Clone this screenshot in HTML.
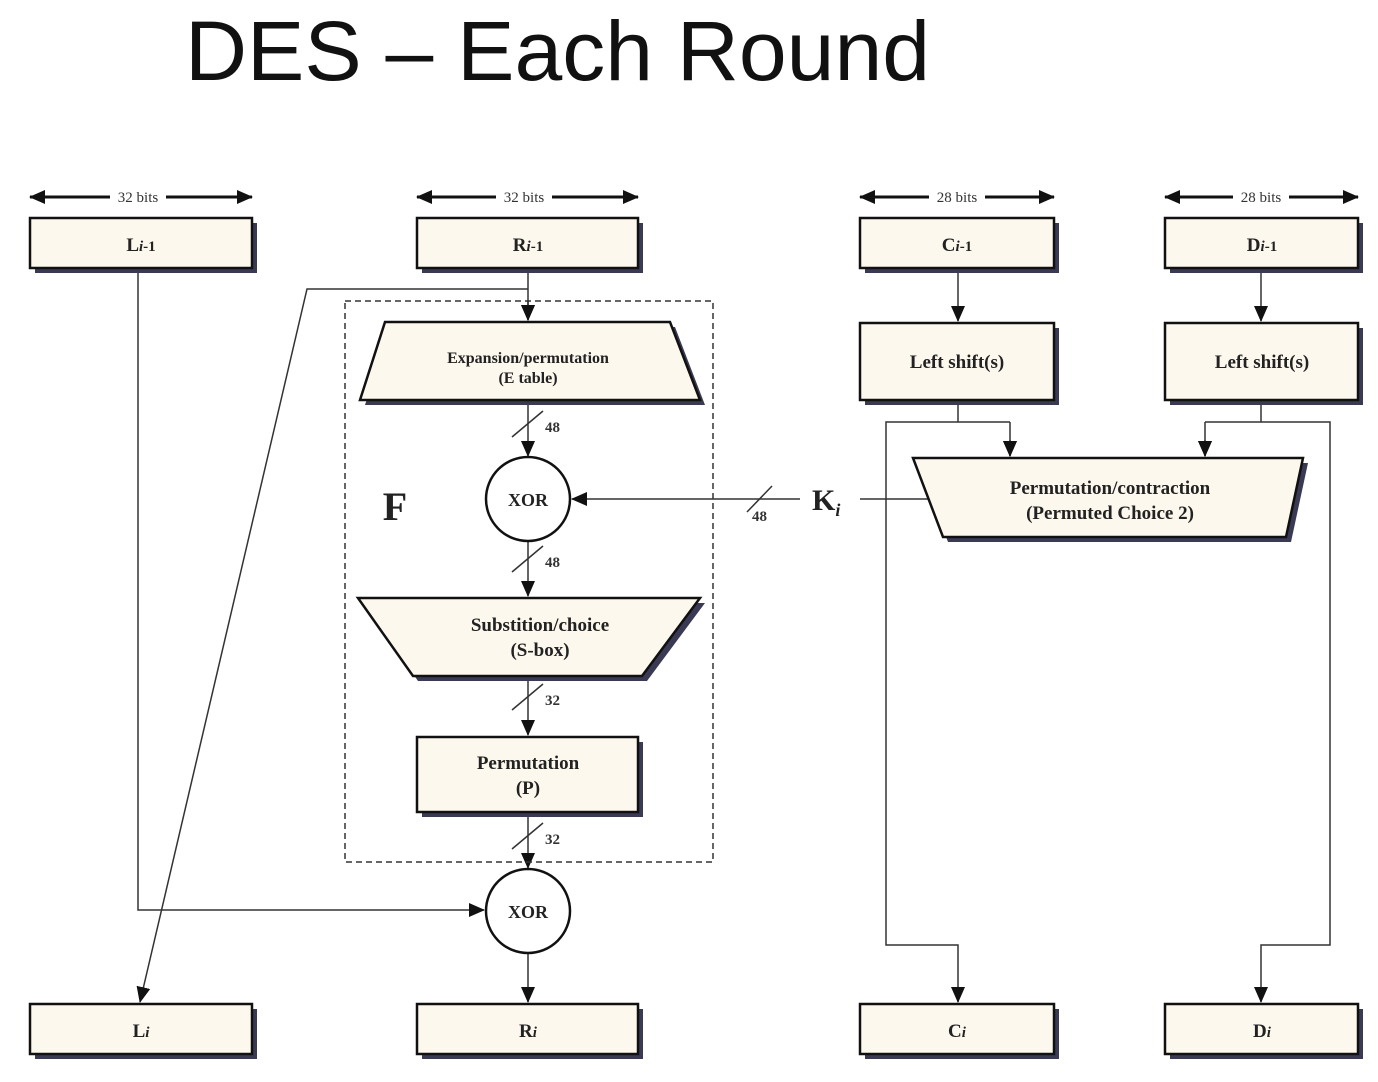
<!DOCTYPE html>
<html><head><meta charset="utf-8"><style>
html,body{margin:0;padding:0;background:#fff;width:1378px;height:1082px;overflow:hidden}
svg{display:block}
.b{font-family:"Liberation Serif",serif;font-weight:bold;fill:#222}
</style></head><body>
<svg width="1378" height="1082" viewBox="0 0 1378 1082" xmlns="http://www.w3.org/2000/svg">
<defs>
<marker id="ah" markerWidth="16" markerHeight="14" refX="15" refY="7" orient="auto" markerUnits="userSpaceOnUse"><path d="M0,0 L16,7 L0,14 z" fill="#111"/></marker>
<marker id="as" markerWidth="16" markerHeight="14" refX="15" refY="7" orient="auto" markerUnits="userSpaceOnUse"><path d="M0,0 L16,7 L0,14 z" fill="#111"/></marker>
</defs>
<text x="185" y="80" font-family="Liberation Sans,sans-serif" font-size="84" fill="#111" textLength="745" lengthAdjust="spacingAndGlyphs">DES – Each Round</text>

<g stroke="#111" stroke-width="3">
<line x1="45" y1="197" x2="252" y2="197" marker-end="url(#ah)"/><line x1="237" y1="197" x2="30" y2="197" marker-end="url(#ah)"/>
<line x1="432" y1="197" x2="638" y2="197" marker-end="url(#ah)"/><line x1="623" y1="197" x2="417" y2="197" marker-end="url(#ah)"/>
<line x1="875" y1="197" x2="1054" y2="197" marker-end="url(#ah)"/><line x1="1040" y1="197" x2="860" y2="197" marker-end="url(#ah)"/>
<line x1="1180" y1="197" x2="1358" y2="197" marker-end="url(#ah)"/><line x1="1343" y1="197" x2="1165" y2="197" marker-end="url(#ah)"/>
</g>
<g font-family="Liberation Serif,serif" font-size="15" fill="#333" text-anchor="middle">
<rect x="110" y="189" width="56" height="16" fill="#fff"/><text x="138" y="202">32 bits</text>
<rect x="496" y="189" width="56" height="16" fill="#fff"/><text x="524" y="202">32 bits</text>
<rect x="929" y="189" width="56" height="16" fill="#fff"/><text x="957" y="202">28 bits</text>
<rect x="1233" y="189" width="56" height="16" fill="#fff"/><text x="1261" y="202">28 bits</text>
</g>

<g stroke="#333" stroke-width="1.5" fill="none">
<polyline points="138,268 138,910 484,910" marker-end="url(#as)"/>
<line x1="528" y1="268" x2="528" y2="320" marker-end="url(#as)"/>
<polyline points="528,289 307,289 140,1002" marker-end="url(#as)"/>
<line x1="528" y1="400" x2="528" y2="456" marker-end="url(#as)"/>
<line x1="528" y1="541" x2="528" y2="596" marker-end="url(#as)"/>
<line x1="528" y1="676" x2="528" y2="735" marker-end="url(#as)"/>
<line x1="528" y1="812" x2="528" y2="868" marker-end="url(#as)"/>
<line x1="528" y1="953" x2="528" y2="1002" marker-end="url(#as)"/>
<line x1="930" y1="499" x2="572" y2="499" marker-end="url(#as)"/>
<line x1="958" y1="268" x2="958" y2="321" marker-end="url(#as)"/>
<line x1="1261" y1="268" x2="1261" y2="321" marker-end="url(#as)"/>
<line x1="958" y1="400" x2="958" y2="422"/>
<line x1="1261" y1="400" x2="1261" y2="422"/>
<polyline points="1010,422 886,422 886,945 958,945 958,1002" marker-end="url(#as)"/>
<polyline points="1205,422 1330,422 1330,945 1261,945 1261,1002" marker-end="url(#as)"/>
<polyline points="1010,422 1010,456" marker-end="url(#as)"/>
<polyline points="1205,422 1205,456" marker-end="url(#as)"/>
<rect x="345" y="301" width="368" height="561" stroke-dasharray="6,4"/>
</g>
<rect x="800" y="485" width="60" height="30" fill="#fff"/>
<text x="812" y="510" class="b" font-size="30">K<tspan font-size="18" font-style="italic" dy="6">i</tspan></text>

<g stroke="#333" stroke-width="1.5"><line x1="512" y1="437" x2="543" y2="411"/><line x1="512" y1="572" x2="543" y2="546"/><line x1="512" y1="710" x2="543" y2="684"/><line x1="512" y1="849" x2="543" y2="823"/><line x1="747" y1="512" x2="772" y2="486"/></g>
<g font-family="Liberation Serif,serif" font-size="15" fill="#333" font-weight="bold">
<text x="545" y="432">48</text><text x="545" y="567">48</text><text x="545" y="705">32</text><text x="545" y="844">32</text><text x="752" y="521">48</text></g>

<g fill="#3a3a55">
<rect x="35" y="223" width="222" height="50"/><rect x="422" y="223" width="221" height="50"/><rect x="865" y="223" width="194" height="50"/><rect x="1170" y="223" width="193" height="50"/>
<rect x="865" y="328" width="194" height="77"/><rect x="1170" y="328" width="193" height="77"/>
<rect x="422" y="742" width="221" height="75"/>
<rect x="35" y="1009" width="222" height="50"/><rect x="422" y="1009" width="221" height="50"/><rect x="865" y="1009" width="194" height="50"/><rect x="1170" y="1009" width="193" height="50"/>
<polygon points="390,327 675,327 705,405 365,405"/>
<polygon points="363,603 705,603 647,681 418,681"/>
<polygon points="918,463 1308,463 1291,542 948,542"/>
</g>
<g fill="#fdf8ee" stroke="#111" stroke-width="2.5">
<rect x="30" y="218" width="222" height="50"/><rect x="417" y="218" width="221" height="50"/><rect x="860" y="218" width="194" height="50"/><rect x="1165" y="218" width="193" height="50"/>
<rect x="860" y="323" width="194" height="77"/><rect x="1165" y="323" width="193" height="77"/>
<rect x="417" y="737" width="221" height="75"/>
<rect x="30" y="1004" width="222" height="50"/><rect x="417" y="1004" width="221" height="50"/><rect x="860" y="1004" width="194" height="50"/><rect x="1165" y="1004" width="193" height="50"/>
<polygon points="385,322 670,322 700,400 360,400"/>
<polygon points="358,598 700,598 642,676 413,676"/>
<polygon points="913,458 1303,458 1286,537 943,537"/>
<circle cx="528" cy="499" r="42" fill="#fff"/>
<circle cx="528" cy="911" r="42" fill="#fff"/>
</g>
<line x1="528" y1="300" x2="528" y2="320" stroke="#333" stroke-width="1.5" marker-end="url(#as)"/>
<line x1="1010" y1="440" x2="1010" y2="456" stroke="#333" stroke-width="1.5" marker-end="url(#as)"/>
<line x1="1205" y1="440" x2="1205" y2="456" stroke="#333" stroke-width="1.5" marker-end="url(#as)"/>

<g class="b" text-anchor="middle" font-size="19">
<text x="141" y="251">L<tspan font-style="italic" font-size="15">i</tspan><tspan font-size="15">-1</tspan></text>
<text x="528" y="251">R<tspan font-style="italic" font-size="15">i</tspan><tspan font-size="15">-1</tspan></text>
<text x="957" y="251">C<tspan font-style="italic" font-size="15">i</tspan><tspan font-size="15">-1</tspan></text>
<text x="1262" y="251">D<tspan font-style="italic" font-size="15">i</tspan><tspan font-size="15">-1</tspan></text>
<text x="957" y="368">Left shift(s)</text><text x="1262" y="368">Left shift(s)</text>
<text x="528" y="363" font-size="16">Expansion/permutation</text><text x="528" y="383" font-size="16">(E table)</text>
<text x="528" y="506" font-size="18">XOR</text><text x="528" y="918" font-size="18">XOR</text>
<text x="540" y="631">Substition/choice</text><text x="540" y="656">(S-box)</text>
<text x="528" y="769">Permutation</text><text x="528" y="794">(P)</text>
<text x="1110" y="494">Permutation/contraction</text><text x="1110" y="519">(Permuted Choice 2)</text>
<text x="141" y="1037">L<tspan font-style="italic" font-size="15">i</tspan></text>
<text x="528" y="1037">R<tspan font-style="italic" font-size="15">i</tspan></text>
<text x="957" y="1037">C<tspan font-style="italic" font-size="15">i</tspan></text>
<text x="1262" y="1037">D<tspan font-style="italic" font-size="15">i</tspan></text>
<text x="395" y="520" font-size="40">F</text>
</g>
</svg>
</body></html>
